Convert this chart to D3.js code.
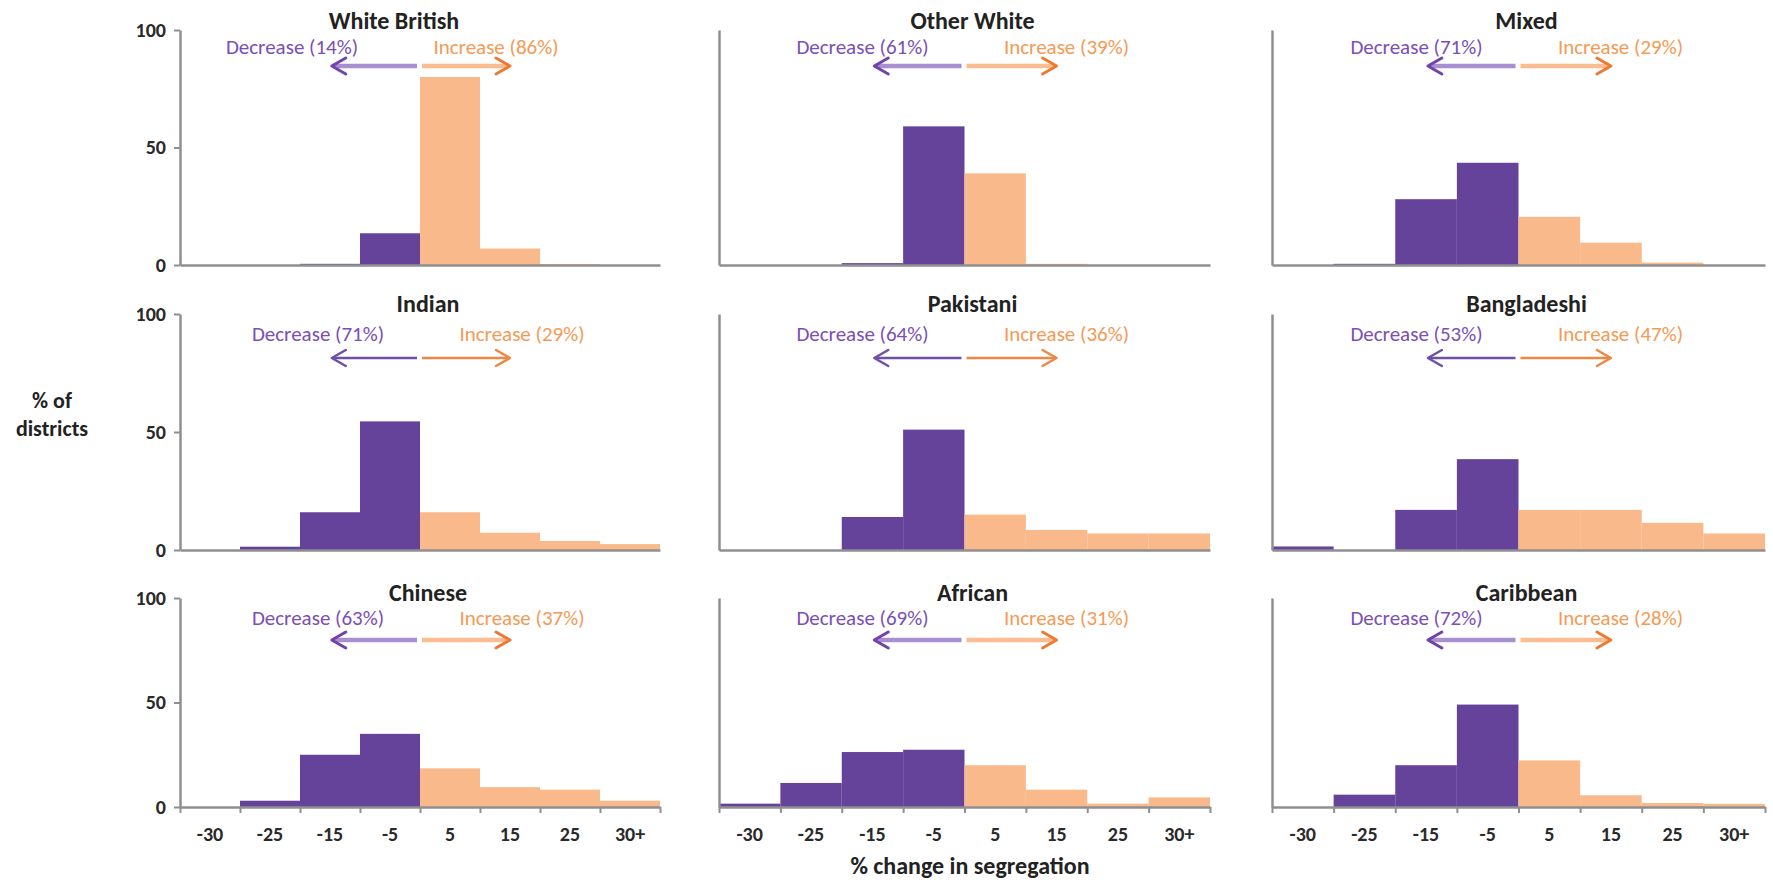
<!DOCTYPE html>
<html>
<head>
<meta charset="utf-8">
<script src="https://cdn.jsdelivr.net/npm/d3@7"></script>
<style>
  html, body { margin: 0; padding: 0; background: #fff; }
  svg { display: block; }
  text { font-family: Carlito, Lato, "Liberation Sans", sans-serif; }
</style>
</head>
<body>
<svg id="chart" width="1773" height="884"></svg>
<script>
// Bins of % change in segregation (tick labels)
const bins = ["-30", "-25", "-15", "-5", "5", "15", "25", "30+"];

// Ethnic groups, one small multiple each
const groups = ["White British", "Other White", "Mixed",
                "Indian", "Pakistani", "Bangladeshi",
                "Chinese", "African", "Caribbean"];

// Share of districts with a decrease / increase (%)
const decreaseShare = [14, 61, 71, 71, 64, 53, 63, 69, 72];
const increaseShare = [86, 39, 29, 29, 36, 47, 37, 31, 28];

// % of districts in each bin, per group
const whiteBritish = [0, 0, 0.5, 13.5, 80, 7, 0.4, 0];
const otherWhite   = [0, 0, 0.8, 59, 39, 0.5, 0, 0];
const mixed        = [0, 0.5, 28, 43.5, 20.5, 9.5, 1, 0];
const indian       = [0, 1.4, 16, 54.5, 16, 7.3, 3.8, 2.5];
const pakistani    = [0, 0, 14, 51, 15, 8.5, 7, 7];
const bangladeshi  = [1.5, 0, 17, 38.5, 17, 17, 11.5, 7];
const chinese      = [0, 3, 25, 35, 18.5, 9.5, 8.3, 3];
const african      = [1.6, 11.5, 26.3, 27.4, 20, 8.3, 1.6, 4.6];
const caribbean    = [0, 5.9, 20, 49, 22.3, 5.6, 1.9, 1.5];

const seriesValues = [whiteBritish, otherWhite, mixed,
                      indian, pakistani, bangladeshi,
                      chinese, african, caribbean];

const yTicks = [0, 50, 100];

// ---- layout ----
const colX = [[180, 660], [719, 1210], [1272, 1765]];
const rowY = [[30, 265], [314, 550], [598, 807]];
const rowText = [
  { title: 21, label: 47, arrow: 66, thick: true },
  { title: 304, label: 334, arrow: 358, thick: false },
  { title: 593, label: 618, arrow: 640, thick: true }
];

const C = {
  purple: "#65439a",
  orange: "#fab98a",
  axis: "#8f8f8f",
  decText: "#7a4fb6",
  incText: "#f59a55",
  purpleShaftLight: "#a78fd0",
  purpleHead: "#7044aa",
  orangeShaftLight: "#f9bd91",
  orangeHead: "#ee7a32",
  purpleArrow: "#6e50a8",
  orangeArrow: "#ef8644",
  title: "#222",
  tick: "#2a2a2a"
};

const svg = d3.select("#chart");

groups.forEach((name, i) => {
  const r = Math.floor(i / 3), c = i % 3;
  const [x0, x1] = colX[c];
  const [yTop, yBase] = rowY[r];
  const vals = seriesValues[i];

  const x = d3.scaleBand().domain(bins).range([x0, x1]).padding(0);
  const xi = d3.scaleLinear().domain([0, bins.length]).range([x0, x1]);
  const y = d3.scaleLinear().domain([0, 100]).range([yBase, yTop]);

  const g = svg.append("g");

  // bars
  g.selectAll("rect.bar")
    .data(bins.map((b, k) => ({ bin: b, v: vals[k], k })))
    .join("rect")
    .attr("class", "bar")
    .attr("x", d => x(d.bin))
    .attr("width", x.bandwidth())
    .attr("y", d => y(d.v))
    .attr("height", d => Math.max(0, y(0) - y(d.v)))
    .attr("fill", d => d.k < 4 ? C.purple : C.orange);

  // y axis
  const yAxis = c === 0
    ? d3.axisLeft(y).tickValues(yTicks).tickSize(6).tickSizeOuter(0).tickPadding(8)
    : d3.axisLeft(y).tickValues([]).tickSizeOuter(0);
  const ya = g.append("g").attr("transform", `translate(${x0},0)`).call(yAxis);
  ya.select(".domain").attr("stroke", C.axis).attr("stroke-width", 2.5);
  ya.selectAll(".tick line").attr("stroke", C.axis).attr("stroke-width", 2);
  ya.selectAll(".tick text")
    .attr("font-size", 20).attr("fill", C.tick).attr("font-weight", 600)
    .style("font-family", "Carlito, Lato, sans-serif");

  // x axis
  const edges = d3.range(bins.length + 1);
  const xAxis = d3.axisBottom(xi)
    .tickValues(r === 2 ? edges : [])
    .tickSize(6).tickSizeOuter(0).tickFormat("");
  const xa = g.append("g").attr("transform", `translate(0,${yBase})`).call(xAxis);
  xa.select(".domain").attr("stroke", C.axis).attr("stroke-width", 2.5);
  xa.selectAll(".tick line").attr("stroke", C.axis).attr("stroke-width", 2);

  if (r === 2) {
    const xl = g.append("g").attr("transform", `translate(0,${yBase})`)
      .call(d3.axisBottom(x).tickSize(0).tickPadding(20));
    xl.select(".domain").remove();
    xl.selectAll(".tick text")
      .attr("font-size", 20).attr("fill", C.tick).attr("font-weight", 600)
      .style("font-family", "Carlito, Lato, sans-serif");
  }

  // annotations
  const rt = rowText[r];
  const mid = xi(4);
  const shift = i === 0 ? -26 : 0;
  const titleDx = i === 0 ? -26 : 8;

  g.append("text")
    .attr("x", mid + titleDx).attr("y", rt.title)
    .attr("dy", "0.35em").attr("text-anchor", "middle")
    .attr("font-size", 24).attr("font-weight", 700).attr("fill", C.title)
    .text(name);

  g.append("text")
    .attr("x", mid - 102 + shift).attr("y", rt.label)
    .attr("dy", "0.35em").attr("text-anchor", "middle")
    .attr("font-size", 21).attr("fill", C.decText)
    .text(`Decrease (${decreaseShare[i]}%)`);

  g.append("text")
    .attr("x", mid + 102 + shift).attr("y", rt.label)
    .attr("dy", "0.35em").attr("text-anchor", "middle")
    .attr("font-size", 21).attr("fill", C.incText)
    .text(`Increase (${increaseShare[i]}%)`);

  // direction arrows
  const ay = rt.arrow;
  const leftTip = xi(4 - 1.47), rightTip = xi(4 + 1.5);
  const hl = 14, hh = 8;
  const shaftW = rt.thick ? 4.5 : 2.5;
  const headW = rt.thick ? 3 : 2.5;
  const pShaft = rt.thick ? C.purpleShaftLight : C.purpleArrow;
  const pHead = rt.thick ? C.purpleHead : C.purpleArrow;
  const oShaft = rt.thick ? C.orangeShaftLight : C.orangeArrow;
  const oHead = rt.thick ? C.orangeHead : C.orangeArrow;

  g.append("line")
    .attr("x1", mid - 3).attr("x2", leftTip + 2).attr("y1", ay).attr("y2", ay)
    .attr("stroke", pShaft).attr("stroke-width", shaftW);
  g.append("path")
    .attr("d", `M${leftTip + hl},${ay - hh} L${leftTip},${ay} L${leftTip + hl},${ay + hh}`)
    .attr("fill", "none").attr("stroke", pHead).attr("stroke-width", headW)
    .attr("stroke-linecap", "round").attr("stroke-linejoin", "round");

  g.append("line")
    .attr("x1", mid + 2).attr("x2", rightTip - 2).attr("y1", ay).attr("y2", ay)
    .attr("stroke", oShaft).attr("stroke-width", shaftW);
  g.append("path")
    .attr("d", `M${rightTip - hl},${ay - hh} L${rightTip},${ay} L${rightTip - hl},${ay + hh}`)
    .attr("fill", "none").attr("stroke", oHead).attr("stroke-width", headW)
    .attr("stroke-linecap", "round").attr("stroke-linejoin", "round");
});

// shared axis titles
svg.append("text")
  .attr("x", 52).attr("y", 400).attr("dy", "0.35em").attr("text-anchor", "middle")
  .attr("font-size", 22).attr("font-weight", 700).attr("fill", C.title)
  .text("% of");
svg.append("text")
  .attr("x", 52).attr("y", 428).attr("dy", "0.35em").attr("text-anchor", "middle")
  .attr("font-size", 22).attr("font-weight", 700).attr("fill", C.title)
  .text("districts");

svg.append("text")
  .attr("x", 970).attr("y", 866).attr("dy", "0.35em").attr("text-anchor", "middle")
  .attr("font-size", 24).attr("font-weight", 700).attr("fill", C.title)
  .text("% change in segregation");
</script>
</body>
</html>
